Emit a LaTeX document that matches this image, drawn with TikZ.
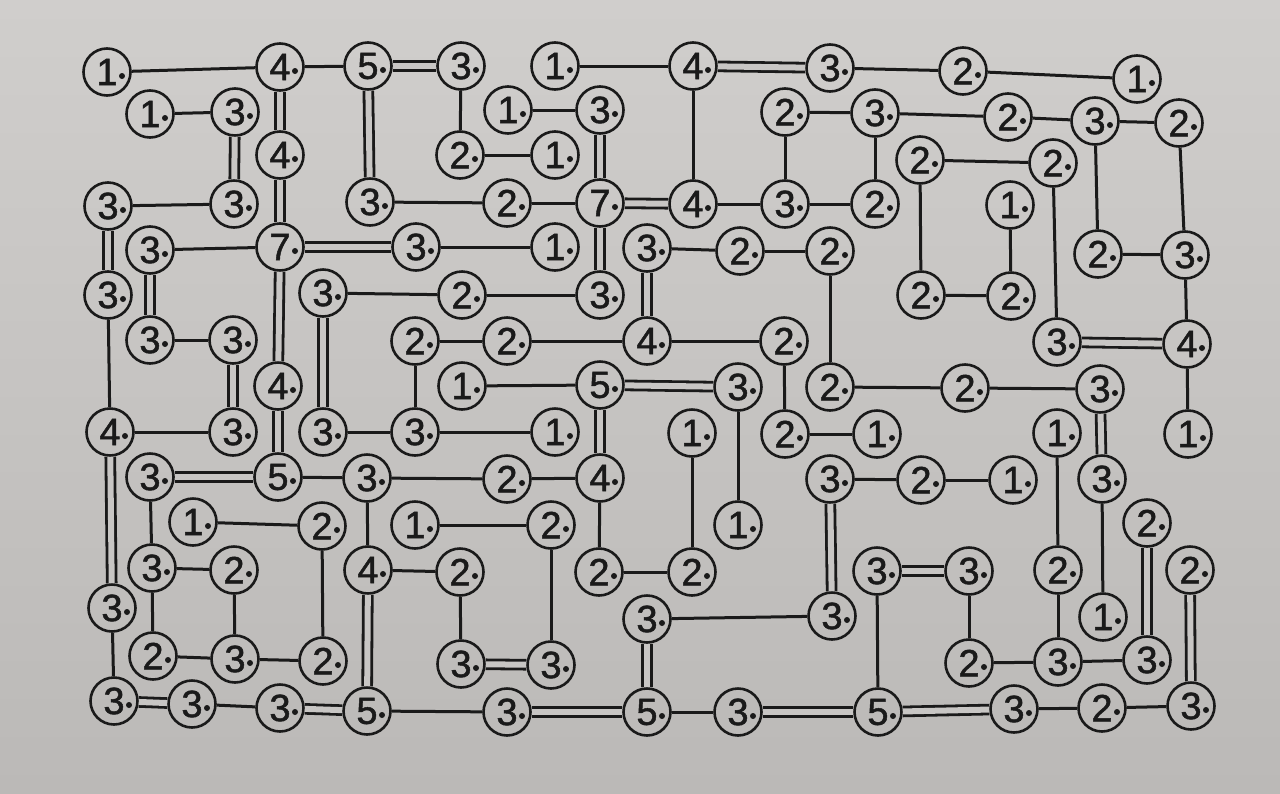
\documentclass[tikz,border=0pt]{standalone}
\usepackage{fontspec}
\setmainfont{Liberation Sans}
\newfontfamily\digfont{Liberation Sans}[FakeBold=1.3]
\definecolor{paper}{HTML}{C8C6C4}
\definecolor{papertop}{HTML}{D0CECC}
\definecolor{paperbot}{HTML}{BBB9B7}
\definecolor{ink}{HTML}{1A1A1A}
\tikzset{
  isl/.style={circle, draw=ink, line width=2.6pt, minimum size=47pt, inner sep=0pt,
    text=ink, font=\digfont\fontsize{38}{38}\selectfont},
  br/.style={draw=ink, line width=3pt},
  dbr/.style={draw=ink, line width=2.8pt, double=paper, double distance=6pt},
  dotmark/.style={fill=ink}
}
\begin{document}
\begin{tikzpicture}[x=1pt,y=-1pt]
\useasboundingbox (0,0) rectangle (1280,793);
\shade[top color=papertop, bottom color=paperbot] (0,0) rectangle (1280,793);
% islands
\node[isl] (A1) at (107,72) {1};
\node[isl] (A2) at (280,67) {4};
\node[isl] (A3) at (368,66) {5};
\node[isl] (A4) at (461,66) {3};
\node[isl] (A5) at (555,66) {1};
\node[isl] (A6) at (693,66) {4};
\node[isl] (A7) at (830,68) {3};
\node[isl] (A8) at (963,71) {2};
\node[isl] (A9) at (1137,79) {1};
\node[isl] (B1) at (150,114) {1};
\node[isl] (B2) at (235,112) {3};
\node[isl] (B3) at (508,110) {1};
\node[isl] (B4) at (600,110) {3};
\node[isl] (B5) at (785,112) {2};
\node[isl] (B6) at (875,113) {3};
\node[isl] (B7) at (1008,117) {2};
\node[isl] (B8) at (1095,121) {3};
\node[isl] (B9) at (1179,123) {2};
\node[isl] (C1) at (280,155) {4};
\node[isl] (C2) at (460,155) {2};
\node[isl] (C3) at (555,155) {1};
\node[isl] (C4) at (920,160) {2};
\node[isl] (C5) at (1053,163) {2};
\node[isl] (D1) at (108,206) {3};
\node[isl] (D2) at (234,204) {3};
\node[isl] (D3) at (370,202) {3};
\node[isl] (D4) at (507,203) {2};
\node[isl] (D5) at (600,203) {7};
\node[isl] (D6) at (693,204) {4};
\node[isl] (D7) at (785,204) {3};
\node[isl] (D8) at (875,204) {2};
\node[isl] (D9) at (1010,205) {1};
\node[isl] (E1) at (150,250) {3};
\node[isl] (E2) at (280,247) {7};
\node[isl] (E3) at (416,247) {3};
\node[isl] (E4) at (555,247) {1};
\node[isl] (E5) at (647,248) {3};
\node[isl] (E6) at (740,251) {2};
\node[isl] (E7) at (830,251) {2};
\node[isl] (E8) at (1098,254) {2};
\node[isl] (E9) at (1185,255) {3};
\node[isl] (F1) at (108,295) {3};
\node[isl] (F2) at (323,293) {3};
\node[isl] (F3) at (462,295) {2};
\node[isl] (F4) at (600,295) {3};
\node[isl] (F5) at (921,295) {2};
\node[isl] (F6) at (1011,296) {2};
\node[isl] (G1) at (150,340) {3};
\node[isl] (G2) at (233,340) {3};
\node[isl] (G3) at (415,341) {2};
\node[isl] (G4) at (507,341) {2};
\node[isl] (G5) at (647,341) {4};
\node[isl] (G6) at (784,341) {2};
\node[isl] (G7) at (1057,342) {3};
\node[isl] (G8) at (1187,344) {4};
\node[isl] (H1) at (278,386) {4};
\node[isl] (H2) at (462,386) {1};
\node[isl] (H3) at (600,385) {5};
\node[isl] (H4) at (738,387) {3};
\node[isl] (H5) at (830,387) {2};
\node[isl] (H6) at (965,388) {2};
\node[isl] (H7) at (1100,389) {3};
\node[isl] (I1) at (110,432) {4};
\node[isl] (I2) at (233,432) {3};
\node[isl] (I3) at (323,432) {3};
\node[isl] (I4) at (415,432) {3};
\node[isl] (I5) at (555,432) {1};
\node[isl] (I6) at (692,433) {1};
\node[isl] (I7) at (785,434) {2};
\node[isl] (I8) at (877,434) {1};
\node[isl] (I9) at (1057,433) {1};
\node[isl] (I10) at (1188,434) {1};
\node[isl] (J1) at (150,477) {3};
\node[isl] (J2) at (278,477) {5};
\node[isl] (J3) at (367,478) {3};
\node[isl] (J4) at (507,479) {2};
\node[isl] (J5) at (600,478) {4};
\node[isl] (J6) at (830,479) {3};
\node[isl] (J7) at (921,480) {2};
\node[isl] (J8) at (1013,480) {1};
\node[isl] (J9) at (1102,479) {3};
\node[isl] (K1) at (193,522) {1};
\node[isl] (K2) at (322,526) {2};
\node[isl] (K3) at (415,525) {1};
\node[isl] (K4) at (551,525) {2};
\node[isl] (K5) at (738,525) {1};
\node[isl] (K6) at (1147,523) {2};
\node[isl] (L1) at (152,568) {3};
\node[isl] (L2) at (234,570) {2};
\node[isl] (L3) at (368,570) {4};
\node[isl] (L4) at (460,572) {2};
\node[isl] (L5) at (599,572) {2};
\node[isl] (L6) at (692,572) {2};
\node[isl] (L7) at (877,571) {3};
\node[isl] (L8) at (969,571) {3};
\node[isl] (L9) at (1058,570) {2};
\node[isl] (L10) at (1190,570) {2};
\node[isl] (M1) at (112,608) {3};
\node[isl] (M2) at (647,619) {3};
\node[isl] (M3) at (832,616) {3};
\node[isl] (M4) at (1103,617) {1};
\node[isl] (N1) at (153,656) {2};
\node[isl] (N2) at (235,659) {3};
\node[isl] (N3) at (323,661) {2};
\node[isl] (N4) at (461,664) {3};
\node[isl] (N5) at (551,665) {3};
\node[isl] (N6) at (969,663) {2};
\node[isl] (N7) at (1058,662) {3};
\node[isl] (N8) at (1147,660) {3};
\node[isl] (O1) at (114,701) {3};
\node[isl] (O2) at (192,704) {3};
\node[isl] (O3) at (280,708) {3};
\node[isl] (O4) at (367,711) {5};
\node[isl] (O5) at (507,712) {3};
\node[isl] (O6) at (647,712) {5};
\node[isl] (O7) at (738,712) {3};
\node[isl] (O8) at (878,712) {5};
\node[isl] (O9) at (1014,709) {3};
\node[isl] (O10) at (1102,708) {2};
\node[isl] (O11) at (1191,706) {3};
% single bridges
\foreach \a/\b in {A1/A2,A2/A3,A4/C2,A5/A6,A6/D6,A7/A8,A8/A9,
  B1/B2,B3/B4,B5/B6,B5/D7,B6/B7,B6/D8,B7/B8,B8/B9,B8/E8,B9/E9,
  C2/C3,C4/C5,C4/F5,C5/G7,
  D1/D2,D3/D4,D4/D5,D6/D7,D7/D8,D9/F6,
  E1/E2,E3/E4,E5/E6,E6/E7,E7/H5,E8/E9,E9/G8,
  F1/I1,F2/F3,F3/F4,F5/F6,
  G1/G2,G3/G4,G3/I4,G4/G5,G5/G6,G6/I7,G8/I10,
  H2/H3,H4/K5,H5/H6,H6/H7,
  I1/I2,I3/I4,I4/I5,I6/L6,I7/I8,I9/L9,
  J1/L1,J2/J3,J3/J4,J3/L3,J4/J5,J5/L5,J6/J7,J7/J8,J9/M4,
  K1/K2,K2/N3,K3/K4,K4/N5,
  L1/L2,L1/N1,L2/N2,L3/L4,L4/N4,L5/L6,L7/O8,L8/N6,L9/N7,
  M1/O1,M2/M3,
  N1/N2,N2/N3,N6/N7,N7/N8,
  O2/O3,O4/O5,O6/O7,O9/O10,O10/O11}
  \draw[br] (\a) -- (\b);
% double bridges
\foreach \a/\b in {A3/A4,A3/D3,A6/A7,A2/C1,B2/D2,B4/D5,C1/E2,
  D1/F1,D5/D6,D5/F4,E1/G1,E2/E3,E2/H1,E5/G5,F2/I3,G2/I2,G7/G8,
  H1/J2,H3/H4,H3/J5,H7/J9,I1/M1,J1/J2,J6/M3,K6/N8,L3/O4,L7/L8,
  L10/O11,M2/O6,N4/N5,O1/O2,O3/O4,O5/O6,O7/O8,O8/O9}
  \draw[dbr] (\a) -- (\b);
% pencil dots inside the circles
\foreach \n in {A1,A2,A3,A4,A5,A6,A7,A8,A9,B1,B2,B3,B4,B5,B6,B7,B8,B9,
  C1,C2,C3,C4,C5,D1,D2,D3,D4,D5,D6,D7,D8,D9,E1,E2,E3,E4,E5,E6,E7,E8,E9,
  F1,F2,F3,F4,F5,F6,G1,G2,G3,G4,G5,G6,G7,G8,H1,H2,H3,H4,H5,H6,H7,
  I1,I2,I3,I4,I5,I6,I7,I8,I9,I10,J1,J2,J3,J4,J5,J6,J7,J8,J9,
  K1,K2,K3,K4,K5,K6,L1,L2,L3,L4,L5,L6,L7,L8,L9,L10,M1,M2,M3,M4,
  N1,N2,N3,N4,N5,N6,N7,N8,O1,O2,O3,O4,O5,O6,O7,O8,O9,O10,O11}
  \fill[dotmark] ([shift={(15pt,-4pt)}]\n.center) circle (3pt);
\end{tikzpicture}
\end{document}
